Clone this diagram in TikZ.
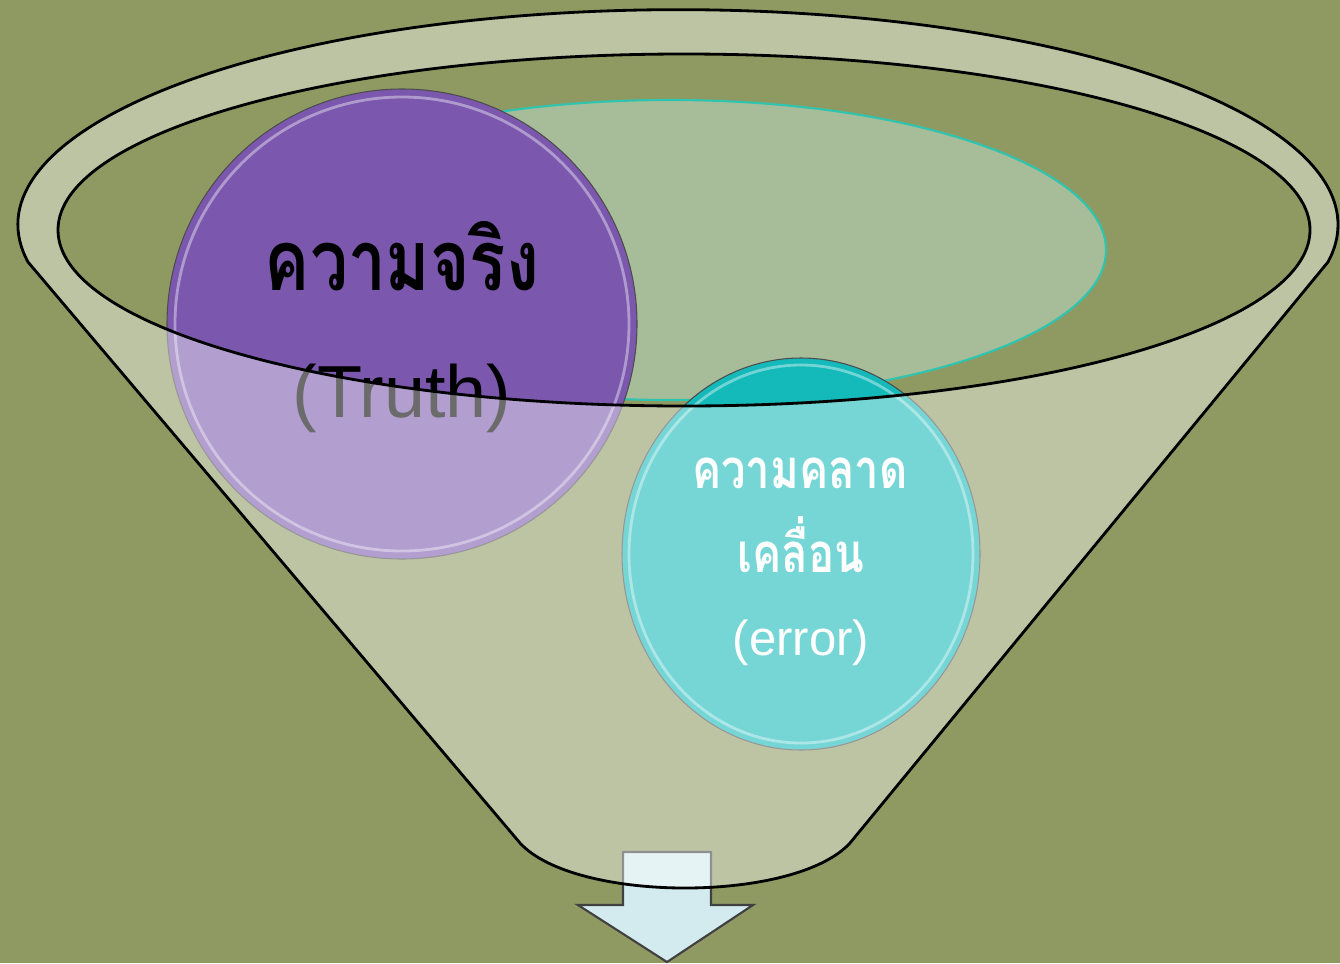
\documentclass[tikz,border=0pt]{standalone}
\usepackage{fontspec}
\setmainfont{Liberation Sans}
\newfontfamily\thaifont[Script=Thai, FakeStretch=0.8]{Loma}
\usetikzlibrary{positioning,shapes.geometric}
\definecolor{bgolive}{HTML}{8F9A63}
\definecolor{truthpurple}{HTML}{7B58AE}
\definecolor{errteal}{HTML}{14B9BA}
\definecolor{poolfill}{HTML}{A7BC98}
\definecolor{poolline}{HTML}{2EC4B0}
\definecolor{arrowfill}{HTML}{D3EBEF}
% outline of the funnel: upper rim, both sides, bottom lip
\newcommand{\funnelshape}{(0.28,7.01) arc[start angle=190, end angle=-10, x radius=6.60, y radius=2.15]
  -- (8.50,1.20) .. controls (7.95,0.60) and (5.75,0.60) .. (5.20,1.20) -- cycle}
\tikzset{
  rim/.style={draw=black, line width=0.8pt},
  ball/.style={draw=black!70, line width=0.3pt, fill=#1, inner sep=0pt},
  shine/.style={draw=white, opacity=0.4, line width=0.8pt},
  thaibig/.style={font=\thaifont\bfseries\fontsize{24}{28}\selectfont, anchor=base},
  thaismall/.style={font=\thaifont\bfseries\fontsize{15.5}{19}\selectfont, anchor=base, text=white},
}

\begin{document}
\begin{tikzpicture}
  \useasboundingbox (0,0) rectangle (13.4,9.63);
  \fill[bgolive] (0,0) rectangle (13.4,9.63);

  % pool inside the mouth
  \draw[poolline, line width=0.6pt, fill=poolfill] (6.70,7.13) ellipse [x radius=4.36, y radius=1.50];

  % outlet arrow
  \draw[fill=arrowfill, draw=black!75, line width=0.6pt]
    (6.23,1.11) -- (7.11,1.11) -- (7.11,0.58) -- (7.53,0.58) -- (6.67,0.01)
    -- (5.78,0.58) -- (6.23,0.58) -- cycle;

  % the two balls
  \node[ball=truthpurple, circle, minimum size=4.70cm] (truth) at (4.02,6.39) {};
  \node[ball=errteal, ellipse, minimum width=3.58cm, minimum height=3.92cm] (error) at (8.01,4.09) {};
  \draw[shine] (truth.center) circle (2.27);
  \draw[shine] (error.center) ellipse [x radius=1.72, y radius=1.89];

  \node[thaibig] (truthth) at (4.02,6.73) {ความจริง};
  \node[font=\fontsize{21}{25}\selectfont, anchor=base] (trutheng) at (4.02,5.46) {(Truth)};
  \node[thaismall] (errth1) at (8.00,4.75) {ความคลาด};
  \node[thaismall] (errth2) at (8.01,3.91) {เคลื่อน};
  \node[font=\fontsize{14}{17}\selectfont, anchor=base, text=white] (erreng) at (8.01,3.08) {(error)};

  % front wall of the funnel, see-through
  \fill[white, opacity=0.42, even odd rule] \funnelshape (6.84,7.33) ellipse [x radius=6.26, y radius=1.76];
  \draw[rim] \funnelshape;
  \draw[rim] (6.84,7.33) ellipse [x radius=6.26, y radius=1.76];
\end{tikzpicture}
\end{document}
